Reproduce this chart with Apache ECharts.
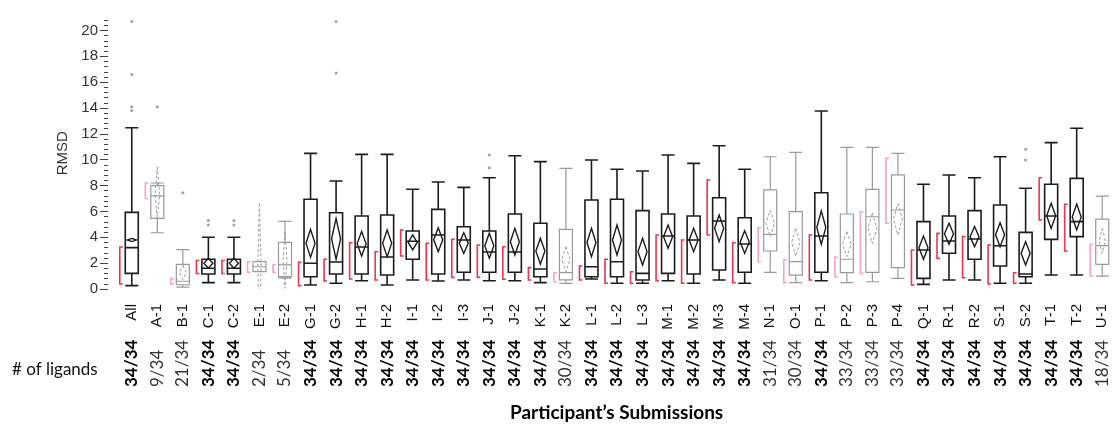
<!DOCTYPE html>
<html>
<head>
<meta charset="utf-8">
<script src="https://cdn.jsdelivr.net/npm/echarts@6/dist/echarts.min.js"></script>
<style>
  html, body { margin: 0; padding: 0; background: #fff; }
  #chart { width: 1115px; height: 427px; }
</style>
</head>
<body>
<div id="chart"></div>
<script>
// submissions along the x axis
var categories = ['All', 'A-1', 'B-1', 'C-1', 'C-2', 'E-1', 'E-2', 'G-1', 'G-2', 'H-1', 'H-2',
  'I-1', 'I-2', 'I-3', 'J-1', 'J-2', 'K-1', 'K-2', 'L-1', 'L-2', 'L-3', 'M-1', 'M-2', 'M-3', 'M-4',
  'N-1', 'O-1', 'P-1', 'P-2', 'P-3', 'P-4', 'Q-1', 'R-1', 'R-2', 'S-1', 'S-2', 'T-1', 'T-2', 'U-1'];

// # of ligands per submission
var ligands = ['34/34', '9/34', '21/34', '34/34', '34/34', '2/34', '5/34', '34/34', '34/34', '34/34', '34/34',
  '34/34', '34/34', '34/34', '34/34', '34/34', '34/34', '30/34', '34/34', '34/34', '34/34', '34/34', '34/34', '34/34', '34/34',
  '31/34', '30/34', '34/34', '33/34', '33/34', '33/34', '34/34', '34/34', '34/34', '34/34', '34/34', '34/34', '34/34', '18/34'];

// [min, Q1, median, Q3, max]
var boxes = [
  [0.26, 1.21, 3.2, 5.93, 12.47],
  [4.35, 5.47, 7.2, 8.0, 8.2],
  [0.15, 0.33, 0.6, 1.91, 3.05],
  [0.49, 1.16, 1.6, 2.3, 4.0],
  [0.49, 1.16, 1.6, 2.3, 4.0],
  [1.34, 1.34, 1.72, 2.11, 2.11],
  [0.84, 0.95, 1.86, 3.61, 5.23],
  [0.31, 0.95, 1.99, 6.94, 10.49],
  [0.44, 1.16, 2.09, 5.9, 8.35],
  [0.64, 1.16, 3.25, 5.65, 10.41],
  [0.31, 1.08, 2.47, 5.72, 10.41],
  [0.7, 2.3, 3.69, 4.49, 7.71],
  [0.62, 1.16, 4.18, 6.16, 8.28],
  [0.7, 1.29, 3.79, 4.82, 7.86],
  [0.64, 1.29, 2.86, 4.49, 8.61],
  [0.64, 1.29, 2.86, 5.8, 10.31],
  [0.49, 0.95, 1.55, 5.08, 9.85],
  [0.44, 0.7, 1.26, 4.61, 9.33],
  [0.77, 0.95, 1.72, 6.88, 9.98],
  [0.44, 0.95, 2.11, 6.94, 9.26],
  [0.44, 0.7, 1.21, 6.06, 9.13],
  [0.64, 1.21, 4.1, 5.8, 10.36],
  [0.44, 1.16, 3.79, 5.65, 9.72],
  [0.7, 1.47, 5.26, 7.06, 11.08],
  [0.44, 1.29, 3.48, 5.51, 9.26],
  [1.29, 2.94, 4.23, 7.66, 10.23],
  [0.49, 1.08, 2.11, 5.98, 10.57],
  [0.64, 1.29, 4.1, 7.45, 13.77],
  [0.49, 1.26, 2.3, 5.8, 10.96],
  [0.56, 1.29, 5.59, 7.71, 10.96],
  [0.82, 1.65, 6.11, 8.82, 10.49],
  [0.36, 0.82, 3.02, 5.21, 8.1],
  [0.7, 2.76, 3.71, 5.65, 8.82],
  [0.7, 2.3, 3.87, 6.06, 8.61],
  [0.44, 1.78, 3.35, 6.5, 10.23],
  [0.44, 0.95, 1.16, 4.38, 7.79],
  [1.08, 3.84, 5.65, 8.1, 11.32],
  [1.08, 4.05, 5.21, 8.56, 12.43],
  [1.0, 1.91, 3.35, 5.41, 7.19]
];

// mean diamonds: mean and half height of the 95% interval
var means = [3.79, 7.4, 1.28, 1.99, 1.99, 1.72, 2.24, 3.53, 3.88, 3.5, 3.53,
  3.6, 3.81, 3.55, 3.35, 3.66, 2.93, 2.3, 3.6, 3.79, 2.89, 4.05, 3.79, 4.69, 3.63,
  5.08, 3.6, 4.75, 3.47, 4.7, 5.4, 3.2, 4.27, 4.05, 4.2, 2.76, 5.66, 5.57, 3.73];
var meanCI = [0.12, 2.05, 0.55, 0.38, 0.38, 4.9, 2.19, 1.08, 1.58, 0.94, 1.03,
  0.58, 0.93, 0.8, 0.97, 1.03, 1.0, 0.97, 1.1, 1.16, 1.03, 0.9, 0.9, 1.03, 0.88,
  1.03, 1.1, 1.29, 0.97, 1.19, 1.23, 0.9, 0.81, 0.78, 0.93, 0.9, 0.97, 1.0, 0.97];

// shortest half brackets [low, high]
var shortestHalf = [
  [0.39, 3.25], [7.0, 8.2], [0.4, 0.8], [1.2, 2.2], [1.2, 2.2], [1.3, 2.1], [1.3, 1.9],
  [0.26, 2.06], [0.62, 2.3], [0.77, 3.58], [0.7, 2.88], [2.55, 4.56], [0.7, 3.53], [0.9, 3.84],
  [0.9, 3.4], [0.75, 3.27], [0.7, 1.65], [0.56, 1.26], [0.7, 1.78], [0.44, 2.3], [0.44, 1.34],
  [0.64, 4.18], [0.44, 3.79], [4.18, 8.43], [0.49, 3.58], [2.11, 4.74], [0.49, 2.24], [0.7, 4.18],
  [0.95, 2.45], [1.21, 5.98], [5.08, 10.1], [0.31, 3.02], [2.37, 4.3], [0.87, 4.05], [0.39, 3.4],
  [0.44, 1.26], [5.34, 8.61], [2.94, 6.55], [1.0, 3.46]
];

// outliers [category index, RMSD]
var outliers = [
  [0, 20.7], [0, 16.6], [0, 14.1], [0, 13.8],
  [1, 14.1], [2, 7.45],
  [3, 5.3], [3, 4.95], [4, 5.3], [4, 4.95],
  [8, 20.7], [8, 16.7],
  [14, 10.36], [14, 9.38],
  [35, 10.8], [35, 9.98]
];

var yTicks = [0, 2, 4, 6, 8, 10, 12, 14, 16, 18, 20];

function isFull(i) {
  return ligands[i] === '34/34';
}
function ligandCount(i) {
  return parseInt(ligands[i].split('/')[0]);
}

var boxData = boxes.map(function (b, i) {
  return {
    value: b,
    itemStyle: isFull(i)
      ? { borderColor: '#1c1c1c', borderWidth: 1.6 }
      : { borderColor: '#9a9a9a', borderWidth: 1.2 }
  };
});
var diamondData = means.map(function (m, i) {
  return [i, m, meanCI[i], ligandCount(i)];
});
var bracketData = shortestHalf.map(function (s, i) {
  return [i, s[0], s[1]];
});

var chart = echarts.init(document.getElementById('chart'), null, { renderer: 'canvas' });

chart.setOption({
  backgroundColor: '#ffffff',
  animation: false,
  grid: { left: 119, top: 17.5, width: 999.2, height: 271.5 },
  xAxis: [{
    type: 'category',
    position: 'bottom',
    data: categories,
    axisLine: { show: false },
    axisTick: { show: false },
    axisLabel: {
      interval: 0,
      rotate: 90,
      margin: 15,
      fontSize: 15,
      color: '#111',
      fontFamily: 'Liberation Sans'
    }
  }, {
    type: 'category',
    position: 'bottom',
    data: categories,
    axisLine: { show: false },
    axisTick: { show: false },
    axisLabel: {
      interval: 0,
      rotate: 90,
      align: 'left',
      margin: 98,
      formatter: function (v, i) {
        return isFull(i) ? '{b|' + ligands[i] + '}' : '{n|' + ligands[i] + '}';
      },
      rich: {
        b: { fontSize: 17, fontWeight: 'bold', color: '#000', fontFamily: 'Lato' },
        n: { fontSize: 17, color: '#333', fontFamily: 'Lato' }
      }
    }
  }],
  yAxis: {
    type: 'value',
    min: 0,
    max: 21,
    interval: 2,
    offset: 11,
    name: 'RMSD',
    nameLocation: 'middle',
    nameGap: 37,
    nameTextStyle: { fontSize: 15, color: '#333', fontFamily: 'Liberation Sans' },
    axisLine: { show: false },
    axisTick: { show: true, length: 8, customValues: yTicks, lineStyle: { color: '#444' } },
    minorTick: { show: true, splitNumber: 5, length: 4, lineStyle: { color: '#444' } },
    splitLine: { show: false },
    axisLabel: {
      customValues: yTicks,
      margin: 10,
      fontSize: 15,
      color: '#333',
      fontFamily: 'Liberation Sans'
    }
  },
  graphic: [{
    type: 'text',
    left: 12,
    top: 361,
    style: { text: '# of ligands', fontSize: 17, fill: '#111', fontFamily: 'Lato' }
  }, {
    type: 'text',
    left: 510,
    top: 403,
    style: { text: 'Participant\u2019s Submissions', fontSize: 19, fontWeight: 'bold', fill: '#000', fontFamily: 'Lato' }
  }],
  series: [{
    type: 'boxplot',
    z: 2,
    data: boxData,
    boxWidth: [13, 13],
    itemStyle: { color: 'rgba(255,255,255,0)', borderColor: '#1c1c1c', borderWidth: 1.6 }
  }, {
    // mean diamonds
    type: 'custom',
    z: 5,
    clip: true,
    data: diamondData,
    renderItem: function (params, api) {
      var i = api.value(0);
      var m = api.value(1);
      var h = api.value(2);
      var n = api.value(3);
      var c = api.coord([i, m]);
      var top = api.coord([i, m + h]);
      var bot = api.coord([i, m - h]);
      var hw = 1.5 + 3 * n / 34;
      var full = n === 34;
      return {
        type: 'polygon',
        shape: { points: [[c[0], top[1]], [c[0] + hw, c[1]], [c[0], bot[1]], [c[0] - hw, c[1]]] },
        style: {
          fill: 'none',
          stroke: full ? '#1c1c1c' : '#a0a0a0',
          lineWidth: full ? 1.4 : 1,
          lineDash: full ? 'solid' : [3, 2]
        }
      };
    }
  }, {
    // shortest half brackets
    type: 'custom',
    z: 5,
    data: bracketData,
    renderItem: function (params, api) {
      var i = api.value(0);
      var lo = api.coord([i, api.value(1)]);
      var hi = api.coord([i, api.value(2)]);
      var x = lo[0] - 12;
      var full = isFull(i);
      return {
        type: 'polyline',
        shape: { points: [[x + 3, hi[1]], [x, hi[1]], [x, lo[1]], [x + 3, lo[1]]] },
        style: {
          fill: null,
          stroke: full ? '#e8384f' : '#f5a6b8',
          lineWidth: 1.6
        }
      };
    }
  }, {
    type: 'scatter',
    z: 5,
    data: outliers,
    symbolSize: 3,
    itemStyle: { color: '#8a8a8a' }
  }]
});
</script>
</body>
</html>
